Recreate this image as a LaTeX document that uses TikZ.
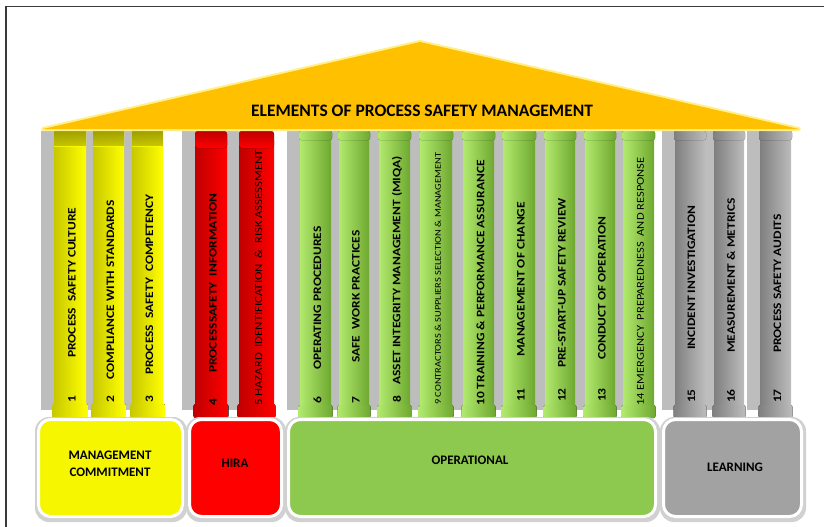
\documentclass[tikz,border=0pt]{standalone}
\usepackage{fontspec}
\setmainfont{Carlito}
\usepackage{graphicx}

\definecolor{roofgold}{HTML}{FFC000}
\definecolor{roofglow}{HTML}{FFF08A}
\definecolor{mcyellow}{HTML}{FFFF00}
\definecolor{mcdark}{HTML}{C8C800}
\definecolor{mcbase}{HTML}{F6F600}
\definecolor{hirared}{HTML}{FF0000}
\definecolor{hiradark}{HTML}{C00000}
\definecolor{opgreen}{HTML}{92D050}
\definecolor{oplight}{HTML}{B2EA6E}
\definecolor{opdark}{HTML}{6FA830}
\definecolor{opbase}{HTML}{8CC94E}
\definecolor{lngray}{HTML}{A6A6A6}
\definecolor{lndark}{HTML}{7F7F7F}
\definecolor{lnbase}{HTML}{A2A2A2}
\definecolor{pillarshadow}{HTML}{BDBDBD}
\definecolor{frame}{HTML}{3A3A3A}

\newcommand{\wide}[1]{\scalebox{1.18}[1]{#1}}

\begin{document}
\begin{tikzpicture}[x=1pt,y=-1pt,
    yellowshaft/.style={left color=mcdark,middle color=mcyellow,right color=mcyellow},
    redshaft/.style={left color=hiradark,middle color=hirared,right color=hirared},
    greenshaft/.style={left color=oplight,middle color=opgreen,right color=opdark},
    grayshaft/.style={left color=lndark,middle color=lngray,right color=lngray!75!white},
    basebox/.style={draw=white,line width=3pt,rounded corners=12pt},
    baseglow/.style={fill=black!18,rounded corners=14pt},
    pillartext/.style={rotate=90,anchor=west,inner sep=0pt,font=\bfseries\fontsize{11.4}{12}\selectfont},
    pillarnum/.style={rotate=90,inner sep=0pt,font=\bfseries\fontsize{11.4}{12}\selectfont},
    thintext/.style={rotate=90,anchor=west,inner sep=0pt},
    baselabel/.style={align=center,inner sep=0pt,font=\bfseries\fontsize{13}{17}\selectfont}]

    \useasboundingbox (0,0) rectangle (824,527);
    \draw[frame,line width=1.3pt] (6,527) -- (6,6.5) -- (824,6.5);

    % shadows behind the pillars
    \foreach \a/\b in {54/86,93/124,132/163,195/227,239/274,300/331,339/369,379/410,420/452,
                       463/494,503/535,545/575,585/615,623/654,675/705,714/744,760/791}
        \fill[pillarshadow] (\a-13,131) rectangle (\b-3,410);

    % pillars
    \foreach \a/\b in {54/86,93/124,132/163} {
        \fill[yellowshaft] (\a,131) rectangle (\b,412);
        \fill[top color=mcdark,bottom color=mcyellow,opacity=0.7] (\a,131) rectangle (\b,146);
        \fill[yellowshaft] (\a-1.5,404) rectangle (\b+1.5,418);
    }
    \foreach \a/\b in {195/227,239/274} {
        \fill[redshaft] (\a,140) rectangle (\b,412);
        \fill[top color=hiradark,bottom color=hirared,rounded corners=3pt] (\a,131) rectangle (\b,148);
        \fill[redshaft,rounded corners=2pt] (\a-1.5,404) rectangle (\b+1.5,418);
    }
    \foreach \a/\b in {300/331,339/369,379/410,420/452,463/494,503/535,545/575,585/615,623/654} {
        \fill[greenshaft] (\a,136) rectangle (\b,410);
        \fill[greenshaft,rounded corners=2pt] (\a-1,131) rectangle (\b+1,140);
        \fill[greenshaft,rounded corners=2pt] (\a-1.5,405) rectangle (\b+1.5,418);
    }
    \foreach \a/\b in {675/705,714/744,760/791} {
        \fill[grayshaft] (\a,136) rectangle (\b,410);
        \fill[grayshaft,rounded corners=2pt] (\a-1,131) rectangle (\b+1,140);
        \fill[grayshaft,rounded corners=2pt] (\a-1.5,405) rectangle (\b+1.5,418);
    }

    % roof
    \draw[roofglow,line width=4pt,line join=round,fill=roofgold] (43,129) -- (420,42) -- (799,129) -- cycle;
    \fill[roofgold] (43,129) -- (420,42) -- (799,129) -- cycle;
    \node[inner sep=0pt,font=\bfseries\fontsize{17.5}{20}\selectfont] (title) at (422,111) {ELEMENTS OF PROCESS SAFETY MANAGEMENT};

    % pillar texts
    \node[pillarnum] (n1) at (72,399) {\wide{1}};
    \node[pillartext] (e1) at (72,358) {\wide{PROCESS~~SAFETY CULTURE}};
    \node[pillarnum] (n2) at (110.5,399) {\wide{2}};
    \node[pillartext] (e2) at (110.5,380) {\wide{COMPLIANCE WITH STANDARDS}};
    \node[pillarnum] (n3) at (149.5,399) {\wide{3}};
    \node[pillartext] (e3) at (149.5,375) {\wide{PROCESS~~SAFETY~~COMPETENCY}};
    \node[pillarnum] (n4) at (213,402) {\wide{4}};
    \node[pillartext] (e4) at (213,373) {\wide{PROCESSSAFETY~~INFORMATION}};
    \node[thintext,font=\fontsize{10.8}{12}\selectfont] (e5) at (258.5,406) {\wide{5 HAZARD~~IDENTIFICATION~~\&~~RISK ASSESSMENT}};
    \node[pillarnum] (n6) at (317.5,400) {\wide{6}};
    \node[pillartext] (e6) at (317.5,370) {\wide{OPERATING PROCEDURES}};
    \node[pillarnum] (n7) at (356,400) {\wide{7}};
    \node[pillartext] (e7) at (356,363) {\wide{SAFE~~WORK PRACTICES}};
    \node[pillarnum] (n8) at (397,399) {\wide{8}};
    \node[pillartext] (e8) at (397,385) {\wide{ASSET INTEGRITY MANAGEMENT (MIQA)}};
    \node[thintext,font=\fontsize{8.8}{10}\selectfont] (e9) at (438,405) {\wide{9 CONTRACTORS \& SUPPLIERS SELECTION \& MANAGEMENT}};
    \node[pillartext] (e10) at (480.5,406) {\wide{10 TRAINING \& PERFORMANCE ASSURANCE}};
    \node[pillarnum] (n11) at (521,395) {\wide{11}};
    \node[pillartext] (e11) at (521,357) {\wide{MANAGEMENT OF CHANGE}};
    \node[pillarnum] (n12) at (562,395) {\wide{12}};
    \node[pillartext] (e12) at (562,368) {\wide{PRE-START-UP SAFETY REVIEW}};
    \node[pillarnum] (n13) at (602,395) {\wide{13}};
    \node[pillartext] (e13) at (602,360) {\wide{CONDUCT OF OPERATION}};
    \node[thintext,font=\fontsize{10.6}{12}\selectfont] (e14) at (640.5,406) {\wide{14 EMERGENCY~~PREPAREDNESS~~AND RESPONSE}};
    \node[pillarnum] (n15) at (691.5,396) {\wide{15}};
    \node[pillartext] (e15) at (691.5,350) {\wide{INCIDENT INVESTIGATION}};
    \node[pillarnum] (n16) at (731,396) {\wide{16}};
    \node[pillartext] (e16) at (731,353) {\wide{MEASUREMENT \& METRICS}};
    \node[pillarnum] (n17) at (777.5,396) {\wide{17}};
    \node[pillartext] (e17) at (777.5,353) {\wide{PROCESS SAFETY AUDITS}};

    % bases
    \fill[baseglow] (35,417) rectangle (187,522);
    \fill[baseglow] (186,417) rectangle (286,522);
    \fill[baseglow] (285,417) rectangle (660,522);
    \fill[baseglow] (660,417) rectangle (806,522);
    \draw[basebox,fill=mcbase] (38.5,419.5) rectangle (182.5,516.5);
    \draw[basebox,fill=hirared] (189.5,419.5) rectangle (281.5,516.5);
    \draw[basebox,fill=opbase] (288.5,419.5) rectangle (655.5,516.5);
    \draw[basebox,fill=lnbase] (663.5,419.5) rectangle (801.5,516.5);
    \node[baselabel] (mgmt) at (110,464) {MANAGEMENT\\COMMITMENT};
    \node[baselabel] (hira) at (235,463) {HIRA};
    \node[baselabel] (oper) at (470,460) {OPERATIONAL};
    \node[baselabel] (learn) at (735,467) {LEARNING};
\end{tikzpicture}
\end{document}
